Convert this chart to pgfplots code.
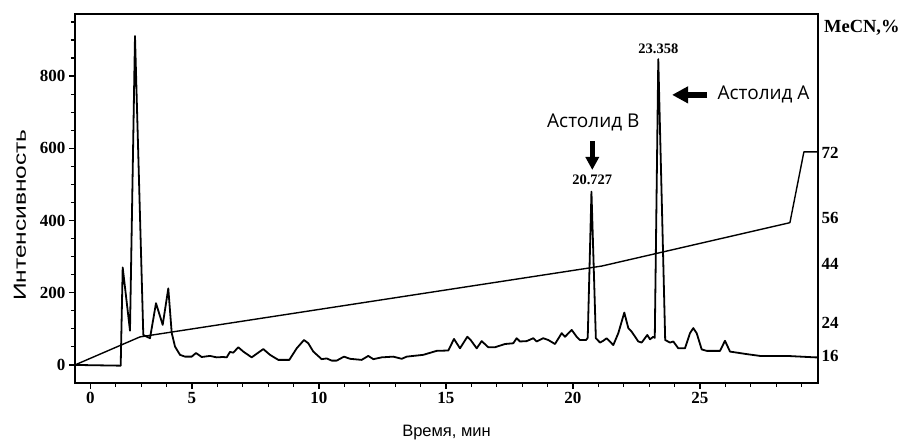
\documentclass[border=0pt]{standalone}
\usepackage{fontspec}
\setmainfont{Liberation Serif}
\newfontfamily\arial{Liberation Sans}
\newfontfamily\osans{Open Sans}
\usepackage{pgfplots}
\usepackage{pgfplotstable}
\pgfplotsset{compat=1.18}
\usetikzlibrary{arrows.meta}

% chromatogram: time (min), intensity
\pgfplotstableread{
t I
0.394 0
2.165 -2
2.193 -2
2.272 270
2.559 95
2.756 911
3.083 83
3.347 74
3.583 171
3.847 111
4.067 212
4.201 89
4.331 51
4.528 28
4.724 23
4.988 23
5.158 33
5.382 22
5.709 25
5.972 21
6.221 22
6.366 21
6.496 36
6.626 34
6.823 49
7.020 37
7.350 21
7.807 44
8.071 28
8.398 14
8.831 14
9.122 46
9.409 69
9.579 60
9.776 37
10.106 16
10.303 18
10.500 12
10.697 12
10.984 23
11.220 17
11.681 14
11.941 25
12.138 16
12.469 21
12.925 23
13.256 17
13.453 23
14.106 28
14.634 39
15.091 40
15.315 72
15.551 46
15.839 78
15.972 69
16.209 46
16.405 66
16.665 49
16.929 49
17.323 58
17.650 60
17.783 74
17.913 65
18.177 66
18.437 74
18.571 65
18.831 74
19.028 69
19.291 58
19.555 88
19.685 78
19.949 97
20.146 78
20.276 69
20.512 69
20.58 75
20.727 480
20.90 74
21.063 62
21.193 67
21.327 74
21.587 55
21.784 88
22.020 145
22.178 102
22.311 92
22.571 65
22.705 62
22.925 83
23.031 71
23.161 78
23.22 75
23.358 847
23.63 69
23.819 62
23.949 65
24.146 46
24.409 46
24.606 88
24.736 102
24.870 88
25.067 43
25.264 39
25.787 39
25.984 67
26.181 37
26.839 30
27.362 25
28.413 25
29.528 21
29.646 21
}\chrom

% MeCN gradient, drawn in intensity units
\pgfplotstableread{
t I
0.394 0
2.95 77.6
21.14 274
28.54 394
29.09 590
29.646 590
}\grad

\begin{document}
\begin{tikzpicture}
\useasboundingbox (-75pt,-60pt) rectangle (828pt,383pt);
\begin{axis}[
    at={(0pt,0pt)}, anchor=south west,
    scale only axis, width=743pt, height=369pt,
    xmin=0.394, xmax=29.646, ymin=-50, ymax=972,
    clip mode=individual,
    xtick={1,5,10,15,20,25}, xticklabels={0,5,10,15,20,25},
    minor xtick={1,2,...,29},
    ytick={0,200,...,800},
    minor ytick={50,100,...,950},
    tick align=outside,
    xtick pos=bottom, ytick pos=left,
    major tick length=6pt, minor tick length=4pt,
    every tick/.style={black, line width=1.2pt},
    axis line style={line width=2.6pt},
    ticklabel style={font=\bfseries\fontsize{17}{17}\selectfont},
    /pgf/number format/assume math mode=true,
    xlabel={Время, мин},
    ylabel={\scalebox{1.4}[1]{Интенсивность}},
    xlabel style={font=\arial\fontsize{16.5}{16.5}\selectfont, at={(axis description cs:0.5,-0.133)}, anchor=center},
    ylabel style={font=\arial\fontsize{17.5}{17.5}\selectfont, at={(axis description cs:-0.074,0.455)}, anchor=center},
]
\addplot[black, line width=1.8pt, line join=round] table[x=t, y=I] {\chrom};
\addplot[black, line width=1.4pt, line join=round] table[x=t, y=I] {\grad};

\draw[line width=2.6pt] (rel axis cs:0,0) rectangle (rel axis cs:1,1);
\node[font=\bfseries\fontsize{14.5}{14.5}\selectfont] at (axis cs:20.76,512) {20.727};
\node[font=\bfseries\fontsize{14.5}{14.5}\selectfont] at (axis cs:23.36,875) {23.358};
\draw[line width=5pt, -{Triangle[length=13pt,width=13pt]}] (axis cs:20.76,620) -- (axis cs:20.76,540);
\draw[line width=6pt, -{Triangle[length=16pt,width=16pt]}] (axis cs:25.28,748) -- (axis cs:23.90,748);
\node[font=\osans\fontsize{19}{19}\selectfont] at (axis cs:20.80,673) {Астолид В};
\node[font=\osans\fontsize{19}{19}\selectfont] at (axis cs:27.5,748) {Астолид А};
\node[font=\bfseries\fontsize{18.5}{18.5}\selectfont] at (rel axis cs:1.059,0.962) {MeCN,\%};
\end{axis}
\begin{axis}[
    at={(0pt,0pt)}, anchor=south west,
    scale only axis, width=743pt, height=369pt,
    xmin=0.394, xmax=29.646, ymin=-50, ymax=972,
    hide x axis,
    axis y line*=right,
    y axis line style={draw=none},
    ytick={25,116,280,407,587},
    yticklabels={16,24,44,56,72},
    major tick length=0pt,
    ticklabel style={font=\bfseries\fontsize{17}{17}\selectfont},
]
\end{axis}
\end{tikzpicture}
\end{document}
